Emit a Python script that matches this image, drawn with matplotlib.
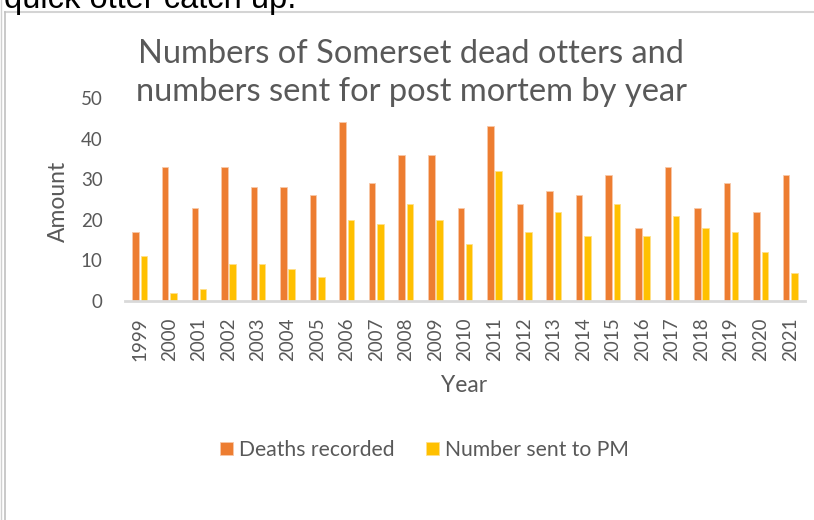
import numpy as np
import matplotlib.pyplot as plt
from matplotlib.lines import Line2D

years = [str(y) for y in range(1999, 2022)]
deaths = [17, 33, 23, 33, 28, 28, 26, 44, 29, 36, 36, 23, 43, 24, 27, 26, 31, 18, 33, 23, 29, 22, 31]
sent_pm = [11, 2, 3, 9, 9, 8, 6, 20, 19, 24, 20, 14, 32, 17, 22, 16, 24, 16, 21, 18, 17, 12, 7]

orange = "#ED7D31"
yellow = "#FFC000"
grey_txt = "#595959"

plt.rcParams["font.family"] = ["Lato", "DejaVu Sans"]

W, H = 814, 520
fig = plt.figure(figsize=(W / 100, H / 100), dpi=100)

# edge of the pasted chart box
fig.add_artist(Line2D([4.5 / W, 1], [1 - 11.5 / H, 1 - 11.5 / H], color="#D4D4D4", lw=1.5))
fig.add_artist(Line2D([4.5 / W, 4.5 / W], [0, 1 - 11.5 / H], color="#C0C0C0", lw=1.2))
fig.add_artist(Line2D([0.8 / W, 0.8 / W], [0, 1], color="#D0D0D0", lw=1.0))

# line of the document above, cut off by the screenshot
fig.text(4 / W, 1 - 8 / H, "quick otter catch up.", fontsize=23.5, family="Liberation Sans",
         color="black", va="baseline", ha="left")

ax = fig.add_axes([125 / W, 1 - 301 / H, 680 / W, 203 / H])
x = np.arange(len(years))
ax.bar(x - 0.14, deaths, width=0.22, color=orange, edgecolor="#F8C8A8", linewidth=0.6, label="Deaths recorded")
ax.bar(x + 0.14, sent_pm, width=0.22, color=yellow, edgecolor="#FFE08A", linewidth=0.6, label="Number sent to PM")

ax.set_xlim(-0.5, len(years) - 0.5)
ax.set_ylim(0, 50)
ax.set_yticks(range(0, 51, 10))
ax.set_xticks(x)
ax.set_xticklabels(years, rotation=90)
ax.tick_params(axis="both", length=0, colors=grey_txt, labelsize=13.5)
ax.tick_params(axis="x", pad=12)
ax.tick_params(axis="y", pad=16)
for s in ["top", "right", "left"]:
    ax.spines[s].set_visible(False)
ax.spines["bottom"].set_color("#D9D9D9")
ax.spines["bottom"].set_linewidth(2)

# axis titles
fig.text(58.5 / W, 1 - 201 / H, "Amount", fontsize=16.5, color=grey_txt, rotation=90, ha="center", va="center")
fig.text(464.5 / W, 1 - 385 / H, "Year", fontsize=16.5, color=grey_txt, ha="center", va="center")

fig.text(411 / W, 1 - 73 / H, "Numbers of Somerset dead otters and\nnumbers sent for post mortem by year",
         fontsize=23.5, color=grey_txt, ha="center", va="center", linespacing=1.3)

fig.legend(loc="center", bbox_to_anchor=(424.5 / W, 1 - 450 / H), ncol=2, frameon=False,
           fontsize=15.2, labelcolor=grey_txt, handlelength=0.62, handleheight=0.62,
           handletextpad=0.3, columnspacing=1.48)

fig.savefig("out.png", dpi=100)
